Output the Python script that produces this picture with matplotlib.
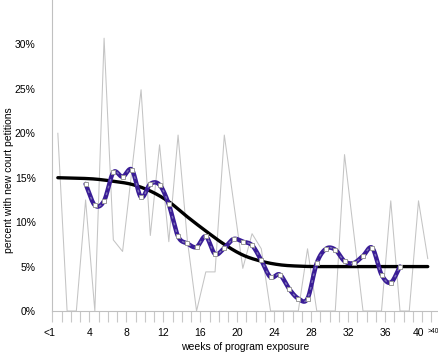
import numpy as np
import matplotlib
matplotlib.use('Agg')
from matplotlib import pyplot as plt
from matplotlib.transforms import ScaledTranslation

plt.rcParams['font.family'] = ['Liberation Sans', 'DejaVu Sans']

# weekly share of youths with new court petitions (%), weeks <1 .. 40
raw_weeks = list(range(0, 41))
raw_pct = [20.0, 0.0, 0.0, 12.5, 0.0, 30.7, 8.0, 6.7, 15.8, 24.9,
           8.5, 18.7, 7.8, 19.8, 8.0, 0.0, 4.4, 4.4, 19.8, 12.3,
           4.8, 8.7, 7.0, 0.0, 0.0, 0.0, 0.0, 7.0, 0.0, 0.0,
           0.0, 17.6, 8.8, 0.0, 0.0, 0.0, 12.4, 0.0, 0.0, 12.4,
           5.9]

# moving average (weeks 3 .. 37)
avg_weeks = list(range(3, 38))
avg_pct = [14.3, 11.9, 12.4, 15.6, 15.1, 15.9, 12.8, 14.3, 14.2, 12.0,
           8.4, 7.6, 7.2, 8.4, 6.4, 7.1, 8.1, 7.8, 7.4, 5.7,
           3.8, 4.1, 2.5, 1.4, 1.4, 5.4, 7.0, 6.9, 5.6, 5.4,
           6.2, 7.1, 4.1, 3.2, 5.0]

# fitted trend
trend_weeks = [0, 2, 4, 6, 8, 10, 12, 14, 16, 18, 20, 22, 24, 26, 28, 32, 36, 40]
trend_pct = [15.0, 14.95, 14.85, 14.6, 14.25, 13.5, 12.3, 10.6, 9.0, 7.5,
             6.3, 5.6, 5.2, 5.05, 5.0, 5.0, 5.0, 5.0]

tick_pos = [0, 4, 8, 12, 16, 20, 24, 28, 32, 36, 40]
tick_labels = ['<1', '4', '8', '12', '16', '20', '24', '28', '32', '36', '40']

off = 0.6  # points sit inside the week interval


def smooth(x, y, n=20):
    # Catmull-Rom curve through the points
    x = np.asarray(x, float)
    y = np.asarray(y, float)
    px = np.concatenate([[2 * x[0] - x[1]], x, [2 * x[-1] - x[-2]]])
    py = np.concatenate([[2 * y[0] - y[1]], y, [2 * y[-1] - y[-2]]])
    xs, ys = [], []
    t = np.linspace(0, 1, n, endpoint=False)
    for i in range(1, len(px) - 2):
        for p, out in ((px, xs), (py, ys)):
            p0, p1, p2, p3 = p[i - 1], p[i], p[i + 1], p[i + 2]
            out.extend(0.5 * (2 * p1 + (-p0 + p2) * t
                              + (2 * p0 - 5 * p1 + 4 * p2 - p3) * t ** 2
                              + (-p0 + 3 * p1 - 3 * p2 + p3) * t ** 3))
    xs.append(x[-1])
    ys.append(y[-1])
    return np.array(xs), np.array(ys)


fig = plt.figure(figsize=(4.39, 3.56), dpi=100)
ax = fig.add_axes([52.3 / 439, 45 / 356, (437 - 52.3) / 439, 311 / 356])

# raw weekly values
ax.plot(np.array(raw_weeks) + off, raw_pct, color='#c4c4c4', lw=0.75, zorder=2)

# trend curve
tx, ty = smooth(np.array(trend_weeks) + off, trend_pct)
ax.plot(tx, ty, color='black', lw=2.4, solid_capstyle='round', zorder=3)

# moving average with markers
sx, sy = smooth(np.array(avg_weeks) + off, avg_pct)
ax.plot(sx, sy, color='#3a1d96', lw=3.2, zorder=4, solid_capstyle='round')
ax.plot(sx, sy, color='#7d72b8', lw=1.0, ls=(0, (2, 3)), zorder=5)
ax.plot(np.array(avg_weeks) + off, avg_pct, ls='none', marker='s', ms=3.2,
        mfc='white', mec='#9a9a9a', mew=0.7, zorder=6)

ax.set_xlim(0, 41.6)
ax.set_ylim(0, 35)

for side in ['top', 'right']:
    ax.spines[side].set_visible(False)
ax.spines['left'].set_color('#c0c0c0')
ax.spines['bottom'].set_color('#c0c0c0')
ax.spines['left'].set_linewidth(0.8)
ax.spines['bottom'].set_linewidth(0.8)

ax.set_yticks([0, 5, 10, 15, 20, 25, 30])
ax.set_yticklabels(['0%', '5%', '10%', '15%', '20%', '25%', '30%'], fontsize=7.5)
ax.tick_params(axis='y', length=0, pad=12)

ax.set_xticks(range(0, 42), minor=True)
ax.set_xticks(tick_pos)
ax.set_xticklabels(tick_labels, fontsize=7.5)
ax.tick_params(axis='x', which='both', length=8, color='#c8c8c8', width=0.8, pad=4)

# nudge the first and last labels like the original
lbls = ax.get_xticklabels()
lbls[0].set_transform(lbls[0].get_transform() + ScaledTranslation(-2 / 72, 0, fig.dpi_scale_trans))
lbls[-1].set_transform(lbls[-1].get_transform() + ScaledTranslation(-2.5 / 72, 0, fig.dpi_scale_trans))
ax.text(40.58, -2.3, '>40', fontsize=4.8, ha='left', va='center', clip_on=False)

ax.set_xlabel('weeks of program exposure', fontsize=7.5, labelpad=3)
ax.set_ylabel('percent with new court petitions', fontsize=7.5)
ax.yaxis.set_label_coords(-0.100, 0.42)

fig.savefig('out.png', dpi=100)
